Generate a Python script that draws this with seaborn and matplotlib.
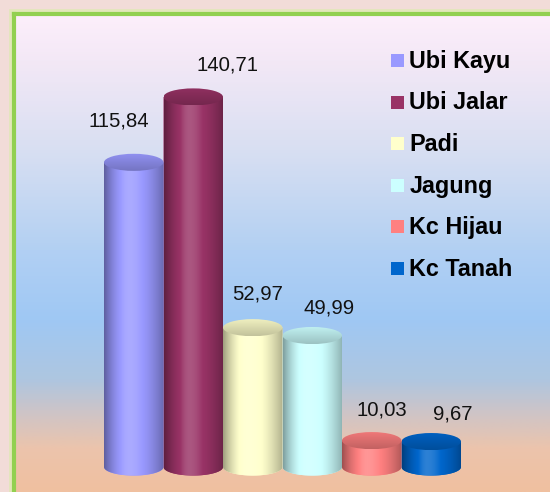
import numpy as np
import matplotlib
matplotlib.use('Agg')
import matplotlib.pyplot as plt
import seaborn as sns
import pandas as pd
from matplotlib.patches import Ellipse, PathPatch, Rectangle
from matplotlib.path import Path
from matplotlib.colors import LinearSegmentedColormap, to_rgb

# ---- data ----
categories = ['Ubi Kayu', 'Ubi Jalar', 'Padi', 'Jagung', 'Kc Hijau', 'Kc Tanah']
values = [115.84, 140.71, 52.97, 49.99, 10.03, 9.67]
value_labels = ['115,84', '140,71', '52,97', '49,99', '10,03', '9,67']
colors = ['#9999ff', '#993366', '#ffffcc', '#ccffff', '#ff8080', '#0066cc']

# ---- layout (pixels) ----
W, H = 550, 492
label_offsets_px = [(-15, 43), (34, 33.5), (5, 35.5), (16.5, 29.5), (10, 32), (22, 29.5)]

sns.set_theme(style='white')
plt.rcParams['font.family'] = ['Liberation Sans', 'DejaVu Sans']

fig = plt.figure(figsize=(W / 100, H / 100), dpi=100, facecolor='#f2dcd8')

# glow around the panel border
fig.patches.append(Rectangle((14 / W, -0.1), 1.2, 1 - 14 / H + 0.1, transform=fig.transFigure,
                             facecolor='none', edgecolor='#dfeab2', lw=7, alpha=0.8, zorder=-2))

# background panel with gradient
bg = fig.add_axes([14 / W, 0, 1 - 14 / W, 1 - 14 / H])
stops = [(0.0, '#fdeffb'), (0.096, '#f3e8f6'), (0.285, '#d8dff2'), (0.494, '#b2d0f3'),
         (0.64, '#9fc8f4'), (0.766, '#aec6e0'), (0.85, '#d4c4c2'), (0.912, '#ecc4ac'),
         (1.0, '#f0c0a0')]
cmap = LinearSegmentedColormap.from_list('bg', stops)
grad = np.linspace(0, 1, 400).reshape(-1, 1)
bg.imshow(grad, cmap=cmap, aspect='auto', extent=(0, 1, 0, 1), origin='upper', interpolation='bilinear')
bg.set_xlim(0, 1)
bg.set_ylim(0, 1)
bg.set_xticks([])
bg.set_yticks([])
for s in ['right', 'bottom']:
    bg.spines[s].set_visible(False)
for s in ['top', 'left']:
    bg.spines[s].set_color('#92d050')
    bg.spines[s].set_linewidth(3.0)

# main axes: y=0 at pixel 467, 2.63 px per unit
YMIN, YMAX = -6, 160
ax = fig.add_axes([104 / W, (25 - 6 * 2.63) / H, 357 / W, (YMAX - YMIN) * 2.63 / H])
ax.patch.set_alpha(0)
df = pd.DataFrame({'cat': categories, 'val': values})
sns.barplot(data=df, x='cat', y='val', hue='cat', palette=colors, width=1.0, saturation=1,
            legend=False, ax=ax, zorder=2)

eh = 6.5  # ellipse height in data units
N = 160
t = np.linspace(0, 1, N)
shade = np.where(t < 0.42, 1.07 - 0.45 * ((0.42 - t) / 0.42) ** 1.8,
                 1.07 - 0.38 * ((t - 0.42) / 0.58) ** 1.8)


def shaded(c, s):
    c = np.array(to_rgb(c))
    out = np.empty((len(s), 3))
    for k, v in enumerate(s):
        if v > 1:
            out[k] = c + (1 - c) * (v - 1) * 2.5
        else:
            out[k] = c * v
    return np.clip(out, 0, 1)


bars = sorted(ax.patches, key=lambda p: p.get_x())
for i, bar in enumerate(bars):
    x0, w, h = bar.get_x(), bar.get_width(), bar.get_height()
    xc = x0 + w / 2
    col = colors[i]
    bar.set_visible(False)
    th = np.linspace(0, -np.pi, 60)
    pts = [(x0, h), (x0 + w, h)] + [(xc + w / 2 * np.cos(a), eh / 2 * np.sin(a)) for a in th] + [(x0, h)]
    codes = [Path.MOVETO] + [Path.LINETO] * (len(pts) - 2) + [Path.CLOSEPOLY]
    body = PathPatch(Path(pts, codes), transform=ax.transData, facecolor=col, edgecolor='none', zorder=2.5)
    ax.add_patch(body)
    img = shaded(col, shade)[np.newaxis, :, :]
    im = ax.imshow(img, extent=(x0, x0 + w, -eh / 2, h), aspect='auto', zorder=3,
                   interpolation='bilinear')
    im.set_clip_path(body)
    # top ellipse
    top = Ellipse((xc, h), w, eh, transform=ax.transData, facecolor='none', edgecolor='none', zorder=4)
    ax.add_patch(top)
    ts = np.linspace(0.76, 0.95, N)
    timg = np.array([shaded(col, np.full(1, v))[0] for v in ts])[:, np.newaxis, :]
    tim = ax.imshow(timg, extent=(x0, x0 + w, h + eh / 2, h - eh / 2), aspect='auto', zorder=4,
                    interpolation='bilinear', origin='upper')
    tim.set_clip_path(top)
    dx, dy = label_offsets_px[i]
    ax.annotate(value_labels[i], xy=(xc, h), xytext=(dx * 0.72, (dy - 7.2) * 0.72),
                textcoords='offset points', ha='center', va='baseline', fontsize=14.6,
                color='#111111', zorder=6)

ax.set_xlim(-0.5, 5.5)
ax.set_ylim(YMIN, YMAX)
ax.axis('off')

# legend
for i, (cat, col) in enumerate(zip(categories, colors)):
    ytop = 54 + i * 41.6
    fig.patches.append(Rectangle((390.7 / W, 1 - (ytop + 13) / H), 13 / W, 13 / H,
                                 transform=fig.transFigure, facecolor=col, edgecolor='none', zorder=5))
    fig.text(409.3 / W, 1 - (67.7 + i * 41.6) / H, cat, fontsize=16.8, fontweight='bold',
             va='baseline', ha='left', color='#000000', zorder=5)

fig.savefig('out.png', dpi=100, facecolor=fig.get_facecolor())
